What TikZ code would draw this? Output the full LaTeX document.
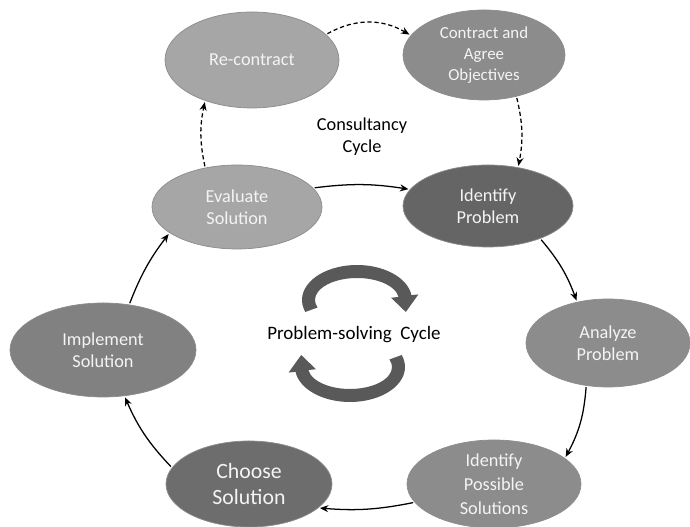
\documentclass[tikz,border=0pt]{standalone}
\usepackage{fontspec}
\setmainfont{Carlito}
\usepackage{tikz}
\usetikzlibrary{positioning,arrows.meta,shapes.geometric}
\definecolor{grPale}{HTML}{A6A6A6}
\definecolor{grMid}{HTML}{8C8C8C}
\definecolor{grImpl}{HTML}{818181}
\definecolor{grDeep}{HTML}{6D6D6D}
\definecolor{grDark}{HTML}{656565}
\definecolor{grTurn}{HTML}{595959}
\definecolor{grText}{HTML}{F4F4F4}
\tikzset{
  stagenode/.style={ellipse, draw=black!45, line width=0.5pt, inner sep=0pt,
                    align=center, text=grText, font=\fontsize{13}{16}\selectfont},
  flowarrow/.style={-{Stealth[length=6pt,width=5pt]}, line width=0.9pt,
                    shorten >=1pt, shorten <=1pt},
  contractarrow/.style={flowarrow, dash pattern=on 3pt off 2pt},
  turnfill/.style={fill=grTurn},
}
\begin{document}
\begin{tikzpicture}
\useasboundingbox (0,0) rectangle (17.25,13.175);
%% Nodes
\node[stagenode, fill=grPale, minimum width=4.35cm, minimum height=2.4cm] (recon) at (6.30,11.675) {Re-contract};
\node[stagenode, fill=grMid, minimum width=4.05cm, minimum height=2.25cm,
      font=\fontsize{12}{15}\selectfont] (contr) at (12.10,11.80) {Contract and\\Agree\\Objectives};
\node[stagenode, fill=grPale, minimum width=4.25cm, minimum height=2.1cm] (evalu) at (5.925,8.0) {Evaluate\\Solution};
\node[stagenode, fill=grDark, minimum width=4.25cm, minimum height=2.05cm] (identp) at (12.20,8.025) {Identify\\Problem};
\node[stagenode, fill=grMid, minimum width=4.1cm, minimum height=2.2cm] (analyze) at (15.20,4.60) {Analyze\\Problem};
\node[stagenode, fill=grMid, minimum width=4.35cm, minimum height=2.2cm,
      font=\fontsize{13}{17}\selectfont] (possib) at (12.35,1.075) {Identify\\Possible\\Solutions};
\node[stagenode, fill=grDeep, minimum width=4.15cm, minimum height=2.15cm,
      font=\fontsize{15.5}{18.5}\selectfont] (choose) at (6.225,1.075) {Choose\\Solution};
\node[stagenode, fill=grImpl, minimum width=4.65cm, minimum height=2.35cm] (implem) at (2.575,4.425) {Implement\\Solution};
\node[align=center, font=\fontsize{13}{15.5}\selectfont] (consult) at (9.05,9.75) {Consultancy\\Cycle};
\node[font=\fontsize{13.5}{16}\selectfont] (solving) at (8.85,4.8) {Problem-solving\hspace{0.45em}Cycle};
%% Turning arrows round the middle label
\foreach \rot in {0,180}{
  \begin{scope}[shift={(8.8375,4.8375)}, rotate=\rot]
    \fill[turnfill, shift={(0.0875,0.8375)}]
      (200:1.375 and 0.875) arc[start angle=200, end angle=8, x radius=1.375, y radius=0.875]
      -- (8:1.55 and 1.0) -- (1.22,-0.3) -- (8:0.86 and 0.4) -- (8:1.05 and 0.55)
      arc[start angle=8, end angle=200, x radius=1.05, y radius=0.55] -- cycle;
  \end{scope}
}
%% Edges
\draw[contractarrow] (recon.19) to[bend left=30] (contr.165);
\draw[contractarrow] (contr.-52) to[bend left=12] (identp.52);
\draw[contractarrow] (evalu.129) to[bend left=12] (recon.-139);
\draw[flowarrow] (evalu.14) to[bend left=8] (identp.168);
\draw[flowarrow] (identp.-32) to[bend left=10] (analyze.127);
\draw[flowarrow] (analyze.-117) to[bend left=12] (possib.20);
\draw[flowarrow] (possib.-167) to[bend left=8] (choose.-19);
\draw[flowarrow] (choose.168) to[bend left=10] (implem.-65);
\draw[flowarrow] (implem.60) to[bend left=8] (evalu.-159);
\end{tikzpicture}
\end{document}
